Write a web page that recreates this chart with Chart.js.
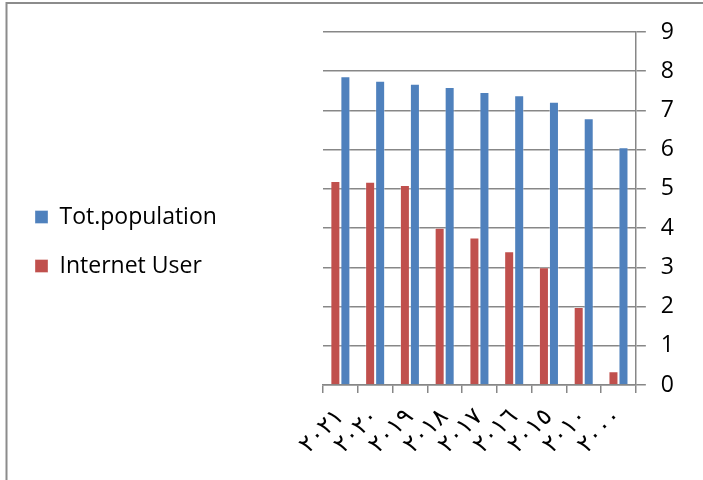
<!DOCTYPE html>
<html>
<head>
<meta charset="utf-8">
<script src="https://cdn.jsdelivr.net/npm/chart.js@4/dist/chart.umd.min.js"></script>
<style>
  html, body { margin: 0; padding: 0; background: #fff; }
  #wrap { position: relative; width: 703px; height: 480px; }
</style>
</head>
<body>
<div id="wrap"><canvas id="c" width="703" height="480"></canvas></div>
<script>
// Years (Arabic-Indic digits), oldest first; the axis is reversed so 2021 sits on the left
const years = ['٢٠٠٠', '٢٠١٠', '٢٠١٥', '٢٠١٦', '٢٠١٧', '٢٠١٨', '٢٠١٩', '٢٠٢٠', '٢٠٢١'];
// Billions of people
const totPopulation = [6.06, 6.80, 7.22, 7.39, 7.47, 7.60, 7.68, 7.76, 7.87];
const internetUsers = [0.35, 1.99, 3.00, 3.41, 3.76, 4.01, 5.10, 5.18, 5.20];
const valueTicks = [0, 1, 2, 3, 4, 5, 6, 7, 8, 9];

const GRID = '#878787';
const FONT = '"Open Sans", "Liberation Sans", sans-serif';
const LEGEND_WIDTH = 314;

// thin grey frame along the top and left edges
const framePlugin = {
  id: 'frame',
  beforeDraw(chart) {
    const ctx = chart.ctx;
    ctx.save();
    ctx.strokeStyle = '#8c8c8c';
    ctx.lineWidth = 2;
    ctx.beginPath();
    ctx.moveTo(6.5, chart.height);
    ctx.lineTo(6.5, 3);
    ctx.lineTo(chart.width, 3);
    ctx.stroke();
    ctx.restore();
  }
};

// keep a wide legend column so the plot starts further right
const wideLegend = {
  id: 'wideLegend',
  beforeLayout(chart) {
    const lg = chart.legend;
    if (lg && !lg.__wide) {
      const fit = lg.fit.bind(lg);
      lg.fit = function () {
        fit();
        this.width = Math.max(this.width, LEGEND_WIDTH);
      };
      lg.__wide = true;
    }
  }
};

new Chart(document.getElementById('c'), {
  type: 'bar',
  data: {
    labels: years,
    datasets: [
      {
        label: 'Internet User',
        data: internetUsers,
        backgroundColor: '#C0504D',
        borderColor: 'rgba(255,255,255,0.35)',
        borderWidth: 1
      },
      {
        label: 'Tot.population',
        data: totPopulation,
        backgroundColor: '#4F81BD',
        borderColor: 'rgba(255,255,255,0.35)',
        borderWidth: 1
      }
    ]
  },
  options: {
    responsive: false,
    animation: false,
    layout: { padding: { left: 9, top: 32, right: 14, bottom: 29 } },
    datasets: { bar: { categoryPercentage: 0.576, barPercentage: 1 } },
    plugins: {
      tooltip: { enabled: false },
      legend: {
        position: 'left',
        reverse: true,
        labels: {
          boxWidth: 13,
          boxHeight: 13,
          padding: 26,
          color: '#000',
          font: { family: FONT, size: 23 }
        }
      }
    },
    scales: {
      x: {
        reverse: true,
        grid: { drawOnChartArea: false, drawTicks: true, tickLength: 8, color: GRID, lineWidth: 1.5, offset: true },
        border: { display: true, color: GRID, width: 1.5 },
        ticks: {
          autoSkip: false,
          minRotation: 45,
          maxRotation: 45,
          padding: 10,
          color: '#000',
          font: { family: '"DejaVu Sans", sans-serif', size: 24 }
        },
        afterFit(scale) {
          scale.paddingLeft = 0;
          scale.paddingRight = 0;
          scale.height = 66;
        }
      },
      y: {
        position: 'right',
        min: 0,
        max: 9,
        afterBuildTicks(scale) {
          scale.ticks = valueTicks.map(v => ({ value: v }));
        },
        grid: { color: GRID, lineWidth: 1.5, tickLength: 10 },
        border: { display: true, color: GRID, width: 1.5 },
        ticks: {
          padding: 15,
          color: '#000',
          font: { family: FONT, size: 23 }
        }
      }
    }
  },
  plugins: [framePlugin, wideLegend]
});
</script>
</body>
</html>
